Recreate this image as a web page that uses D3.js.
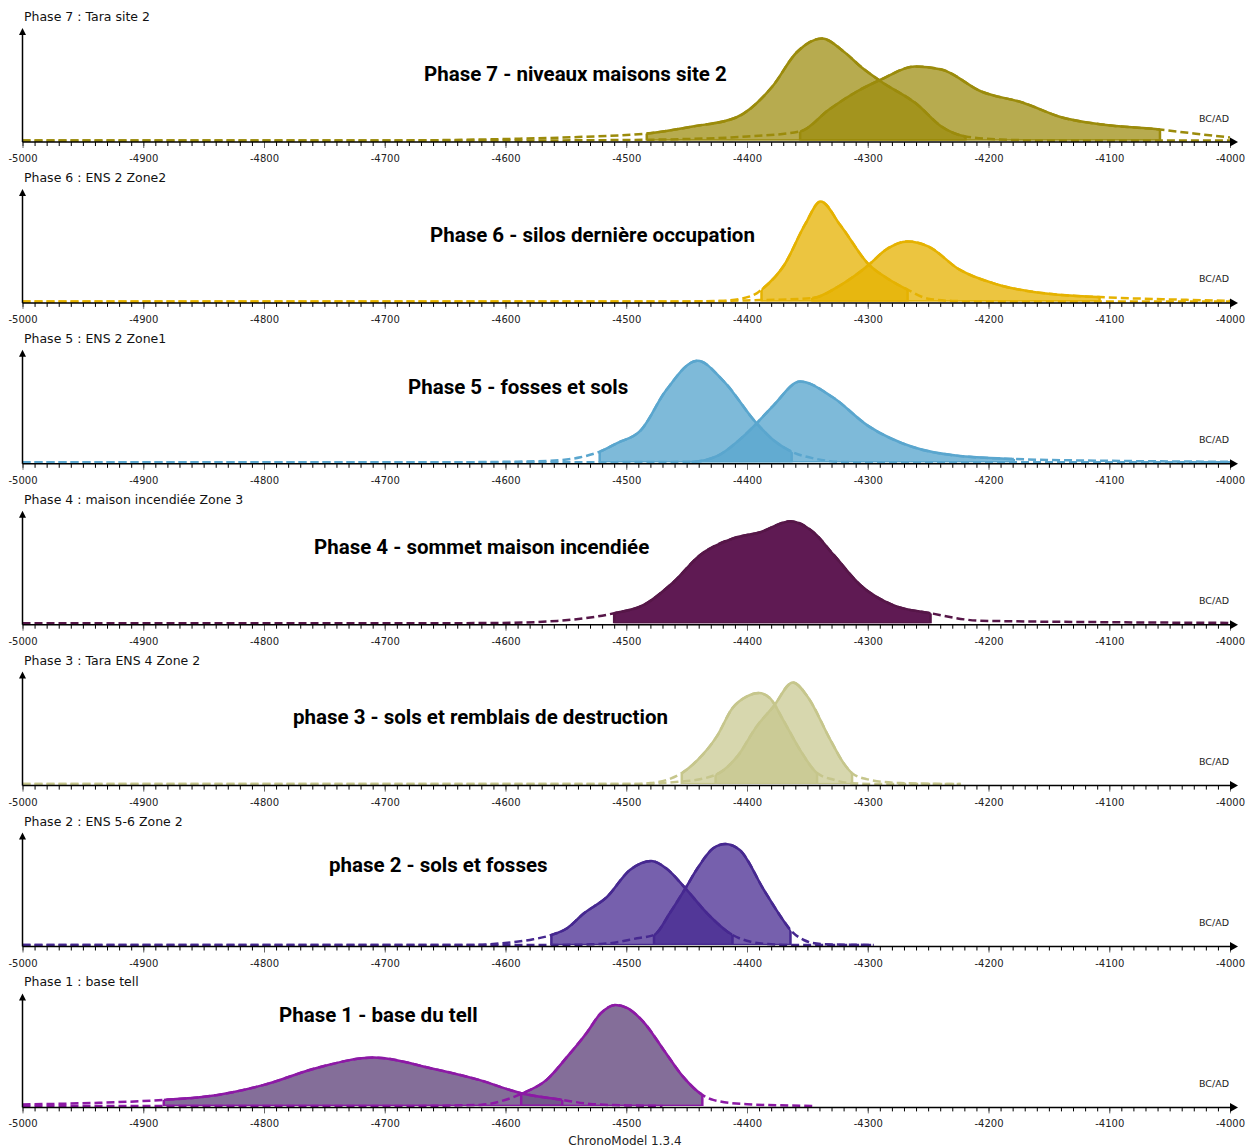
<!DOCTYPE html>
<html>
<head>
<meta charset="utf-8">
<script src="https://cdn.jsdelivr.net/npm/d3@7"></script>
<style>
  body { margin: 0; background: #fff; }
  svg { display: block; }
</style>
</head>
<body>
<svg id="chart" width="1252" height="1148"></svg>
<script>
// ---- data (densities, tallest peak of each panel ~100) ----
var panelTitles = ["Phase 7 : Tara site 2", "Phase 6 : ENS 2 Zone2", "Phase 5 : ENS 2 Zone1",
  "Phase 4 : maison incendiée Zone 3", "Phase 3 : Tara ENS 4 Zone 2", "Phase 2 : ENS 5-6 Zone 2",
  "Phase 1 : base tell"];
var phaseNames = ["Phase 7 - niveaux maisons site 2", "Phase 6 - silos dernière occupation",
  "Phase 5 - fosses et sols", "Phase 4 - sommet maison incendiée",
  "phase 3 - sols et remblais de destruction", "phase 2 - sols et fosses", "Phase 1 - base du tell"];
var majorTicks = [-5000, -4900, -4800, -4700, -4600, -4500, -4400, -4300, -4200, -4100, -4000];

// phase 7
var p7aYears = [-5000, -4700, -4660, -4600, -4540, -4483, -4445, -4409, -4379, -4359, -4338, -4319, -4305, -4289, -4259, -4239, -4219, -4190, -4150, -4000];
var p7aDens  = [0, 0, 0.3, 1.5, 3.5, 7, 14, 23, 54, 88, 102, 88, 73, 59, 36, 14, 4, 1, 0, 0];
var p7aHpd   = [-4483, -4219];
var p7bYears = [-5000, -4600, -4500, -4450, -4400, -4356, -4332, -4309, -4289, -4261, -4239, -4206, -4172, -4139, -4106, -4058, -4030, -4000];
var p7bDens  = [0, 0, 0.5, 1.5, 4, 9, 31, 49, 61, 74, 71, 49, 38, 23, 16, 11, 7, 3];
var p7bHpd   = [-4356, -4058];
// phase 6
var p6aYears = [-5000, -4450, -4422, -4410, -4392, -4388, -4369, -4352, -4339, -4323, -4299, -4282, -4267, -4250, -4230, -4200, -4000];
var p6aDens  = [0, 0, 0.5, 1.7, 8, 11.7, 36.7, 76.7, 100, 76.7, 36.7, 21.7, 11.7, 2.7, 0.5, 0, 0];
var p6aHpd   = [-4388, -4267];
var p6bYears = [-5000, -4450, -4400, -4346, -4322, -4299, -4285, -4267, -4250, -4224, -4192, -4148, -4108, -4050, -4000];
var p6bDens  = [0, 0, 1, 3.3, 16.7, 36.7, 51.7, 60, 55, 31.7, 16.7, 7.3, 4.3, 2, 0.5];
var p6bHpd   = [-4346, -4108];
// phase 5
var p5aYears = [-5000, -4660, -4600, -4563, -4538, -4522, -4508, -4488, -4467, -4441, -4420, -4392, -4378, -4363, -4345, -4325, -4300, -4000];
var p5aDens  = [0, 0, 0.5, 1.5, 5, 10.6, 19, 32, 72, 101.6, 82, 39, 22, 10.6, 4, 0.5, 0, 0];
var p5aHpd   = [-4522, -4363];
var p5bYears = [-5000, -4600, -4446, -4424, -4407, -4392, -4378, -4356, -4329, -4300, -4262, -4227, -4179, -4100, -4000];
var p5bDens  = [0, 0, 0.5, 6.7, 21.7, 39, 57, 80.7, 65, 36.7, 15, 6.7, 3.3, 1.5, 0.5];
var p5bHpd   = [-4446, -4179];
// phase 4
var p4aYears = [-5000, -4650, -4604, -4557, -4510, -4486, -4461, -4439, -4411, -4389, -4364, -4345, -4328, -4306, -4279, -4248, -4207, -4100, -4000];
var p4aDens  = [0, 0, 0.3, 2.3, 10, 18, 41, 68, 85, 91, 102, 91, 68, 38, 18, 10, 2.5, 1, 0.3];
var p4aHpd   = [-4510, -4248];
// phase 3
var p3aYears = [-5000, -4500, -4480, -4466, -4454, -4441, -4425, -4412, -4400, -4390, -4381, -4370, -4356, -4342, -4328, -4315, -4290, -4223];
var p3aDens  = [0, 0, 1, 4.3, 11, 24, 47.7, 76, 87.7, 91, 86, 64, 34, 11, 4.3, 1, 0, 0];
var p3aHpd   = [-4454, -4342];
var p3bYears = [-5000, -4500, -4453, -4426, -4408, -4392, -4378, -4362, -4350, -4331, -4320, -4313, -4301, -4273, -4223];
var p3bDens  = [0, 0, 2.7, 9.3, 27.7, 57.7, 77.7, 101.7, 87.7, 44.3, 21, 11, 5, 1, 0];
var p3bHpd   = [-4426, -4313];
// phase 2
var p2aYears = [-5000, -4629, -4604, -4577, -4562, -4549, -4535, -4516, -4497, -4479, -4467, -4451, -4433, -4412, -4397, -4383, -4360, -4295];
var p2aDens  = [0, 0, 1.7, 5.7, 10, 16.7, 31.7, 48, 75, 84, 76.7, 56.7, 31.7, 10, 3.3, 1, 0, 0];
var p2aHpd   = [-4562, -4412];
var p2bYears = [-5000, -4560, -4521, -4491, -4477, -4464, -4451, -4441, -4428, -4418, -4406, -4386, -4372, -4364, -4353, -4339, -4295];
var p2bDens  = [0, 0, 1, 6.7, 10, 31.7, 56.7, 76.7, 96.7, 101, 95, 55, 28.3, 15, 5, 1, 0];
var p2bHpd   = [-4477, -4364];
// phase 1
var p1aYears = [-5000, -4940, -4883, -4848, -4800, -4757, -4709, -4662, -4622, -4587, -4553, -4530, -4500, -4470];
var p1aDens  = [1.5, 3, 6, 9.3, 21, 37.7, 48.3, 37.7, 26, 12.7, 6, 2, 0.5, 0];
var p1aHpd   = [-4883, -4553];
var p1bYears = [-5000, -4680, -4621, -4605, -4587, -4566, -4549, -4533, -4521, -4509, -4499, -4486, -4469, -4453, -4437, -4428, -4400, -4345];
var p1bDens  = [0, 0, 1, 4.3, 12, 26, 49, 72.7, 92.7, 101, 97.7, 84.3, 56, 29.3, 11, 6, 1.7, 0];
var p1bHpd   = [-4587, -4437];

// ---- layout / styles ----
var strokeColors = ["#9b8b0b", "#e5b200", "#5aa6ce", "#561648", "#c6c68c", "#462890", "#8c19a5"];
var fillColors   = ["#9b8b0b", "#e5b200", "#5aa6ce", "#5f1a53", "#c6c68c", "#462890", "#6f5587"];
var fillOpacity  = [0.72, 0.75, 0.78, 1, 0.7, 0.74, 0.85];
var labelLeft = [424, 430, 408, 314, 293, 329, 279];
var labelDy   = [-68, -68, -77, -78, -69, -82, -92];

var AXIS_TOP = 142, PANEL_H = 160.9, PEAK_PX = 103;

function curve(years, dens, hpd) {
  return { pts: d3.zip(years, dens), hpd: hpd };
}
var panelCurves = [
  [curve(p7aYears, p7aDens, p7aHpd), curve(p7bYears, p7bDens, p7bHpd)],
  [curve(p6aYears, p6aDens, p6aHpd), curve(p6bYears, p6bDens, p6bHpd)],
  [curve(p5aYears, p5aDens, p5aHpd), curve(p5bYears, p5bDens, p5bHpd)],
  [curve(p4aYears, p4aDens, p4aHpd)],
  [curve(p3aYears, p3aDens, p3aHpd), curve(p3bYears, p3bDens, p3bHpd)],
  [curve(p2aYears, p2aDens, p2aHpd), curve(p2bYears, p2bDens, p2bHpd)],
  [curve(p1aYears, p1aDens, p1aHpd), curve(p1bYears, p1bDens, p1bHpd)]
];

var svg = d3.select("#chart");
var defs = svg.append("defs");
var x = d3.scaleLinear().domain([-5000, -4000]).range([22.5, 1230]);

panelCurves.forEach(function(curves, i) {
  var base = AXIS_TOP + PANEL_H * i;
  var y = d3.scaleLinear().domain([0, PEAK_PX]).range([base - 1.5, base - 1.5 - PEAK_PX]);
  var g = svg.append("g");

  var area = d3.area().x(function(d) { return x(d[0]); })
    .y0(y(0)).y1(function(d) { return y(d[1]); }).curve(d3.curveMonotoneX);
  var line = d3.line().x(function(d) { return x(d[0]); })
    .y(function(d) { return y(d[1]); }).curve(d3.curveMonotoneX);

  // clip paths: hpd band and the area shape itself
  curves.forEach(function(c, j) {
    defs.append("clipPath").attr("id", "hpd" + i + "_" + j)
      .append("rect")
      .attr("x", x(c.hpd[0])).attr("width", x(c.hpd[1]) - x(c.hpd[0]))
      .attr("y", base - 140).attr("height", 140);
    defs.append("clipPath").attr("id", "shape" + i + "_" + j)
      .append("path").attr("d", area(c.pts));
  });

  // fills
  curves.forEach(function(c, j) {
    g.append("path").attr("d", area(c.pts))
      .attr("fill", fillColors[i]).attr("fill-opacity", fillOpacity[i])
      .attr("clip-path", "url(#hpd" + i + "_" + j + ")");
  });
  // dashed full curves
  curves.forEach(function(c) {
    g.append("path").attr("d", line(c.pts))
      .attr("fill", "none").attr("stroke", strokeColors[i])
      .attr("stroke-width", 2.5).attr("stroke-dasharray", "8,4");
  });
  // solid hpd part
  curves.forEach(function(c, j) {
    g.append("path").attr("d", line(c.pts))
      .attr("fill", "none").attr("stroke", strokeColors[i]).attr("stroke-width", 2.5)
      .attr("clip-path", "url(#hpd" + i + "_" + j + ")");
    // vertical edges of the hpd region
    g.append("g").attr("clip-path", "url(#shape" + i + "_" + j + ")")
      .append("rect")
      .attr("x", x(c.hpd[0])).attr("width", x(c.hpd[1]) - x(c.hpd[0]))
      .attr("y", base - 140).attr("height", 140 - 1.5)
      .attr("fill", "none").attr("stroke", strokeColors[i]).attr("stroke-width", 2.5);
  });

  // x axis: minor + major ticks
  var minor = g.append("g").attr("transform", "translate(0," + base + ")")
    .call(d3.axisBottom(x).tickValues(d3.range(-5000, -3995, 10)).tickSize(4).tickSizeOuter(0).tickFormat(""));
  minor.select(".domain").remove();
  minor.selectAll(".tick line").attr("stroke", "#000");
  var major = g.append("g").attr("transform", "translate(0," + base + ")")
    .call(d3.axisBottom(x).tickValues(majorTicks).tickSize(6).tickSizeOuter(0).tickPadding(7)
      .tickFormat(function(d) { return String(d); }));
  major.select(".domain").remove();
  major.selectAll(".tick line").attr("stroke", "#666");
  major.selectAll("text").attr("font-family", "DejaVu Sans").attr("font-size", 10).attr("fill", "#222");

  g.append("line").attr("x1", 22.5).attr("x2", 1231).attr("y1", base).attr("y2", base)
    .attr("stroke", "#000").attr("stroke-width", 1.5);
  g.append("path").attr("d", "M1230," + (base - 4.5) + "L1238," + base + "L1230," + (base + 4.5) + "Z")
    .attr("fill", "#000");
  // y axis with arrow
  g.append("line").attr("x1", 22.5).attr("x2", 22.5).attr("y1", base).attr("y2", base - 108)
    .attr("stroke", "#000").attr("stroke-width", 1.5);
  g.append("path").attr("d", "M19," + (base - 107) + "L22.5," + (base - 114) + "L26," + (base - 107) + "Z")
    .attr("fill", "#000");

  g.append("text").attr("x", 1229).attr("y", base - 20.5).attr("text-anchor", "end")
    .attr("font-family", "DejaVu Sans").attr("font-size", 9.5).attr("fill", "#222").text("BC/AD");
  g.append("text").attr("x", 24).attr("y", base - 121).attr("font-family", "DejaVu Sans")
    .attr("font-size", 12.5).attr("fill", "#111").text(panelTitles[i]);
  g.append("text").attr("x", labelLeft[i]).attr("y", base + labelDy[i] + 7)
    .attr("font-family", "Roboto").attr("font-weight", 700).attr("font-size", 20.5)
    .attr("fill", "#000").text(phaseNames[i]);
});

svg.append("text").attr("x", 625).attr("y", 1145).attr("text-anchor", "middle")
  .attr("font-family", "DejaVu Sans").attr("font-size", 12).attr("fill", "#222")
  .text("ChronoModel 1.3.4");
</script>
</body>
</html>
